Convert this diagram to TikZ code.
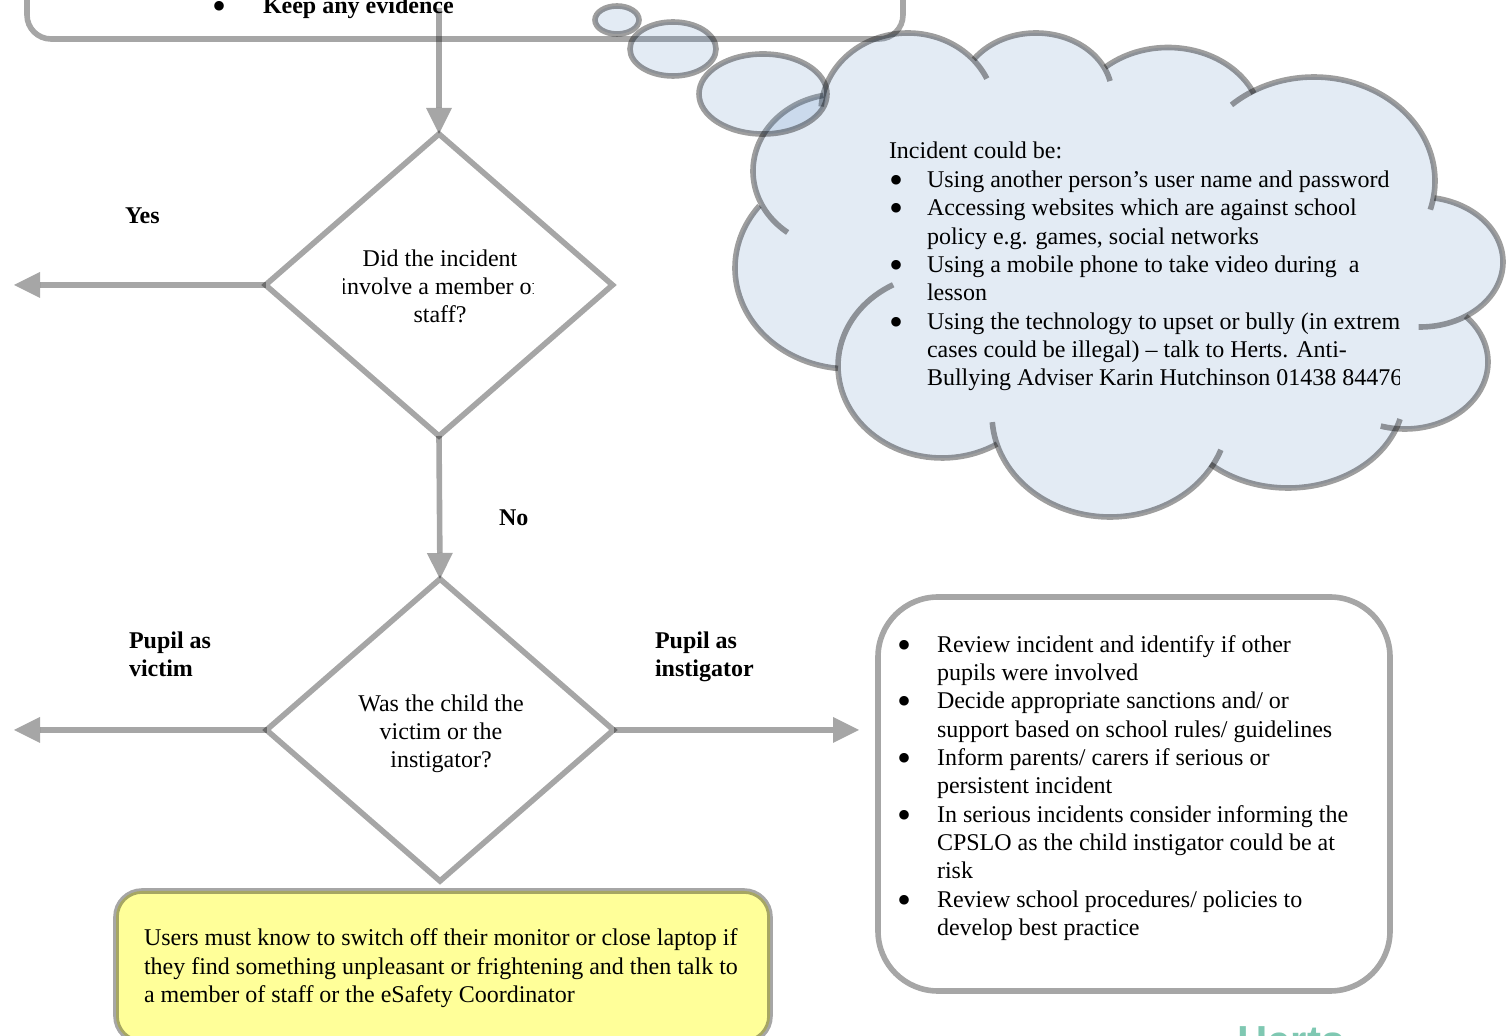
\documentclass[tikz,border=0pt]{standalone}
\usepackage{fontspec}
\setmainfont{Liberation Serif}
\newfontfamily\logofont{Liberation Sans}
\usetikzlibrary{arrows.meta,shapes.geometric}
\definecolor{cloudblue}{HTML}{4F81BD}
\definecolor{noteyellow}{HTML}{FFFF99}
\definecolor{logoteal}{HTML}{7FC8B2}
% hanging bullet: #1 = gap between bullet and the start of the text line
\newcommand{\blt}[1]{\llap{\raisebox{-3pt}[0pt][0pt]{\mdseries\fontsize{20}{14}\selectfont •}\hspace{#1}}}
% elliptical lobe of the cloud: centre x, y, radii x, y, start and end parameter
\newcommand{\lobearc}[6]{plot[domain=#5:#6,samples=60,variable=\t] ({#1+#3*cos(\t)},{#2+#4*sin(\t)})}
\newcommand{\lobenext}[6]{-- plot[domain=#5:#6,samples=60,variable=\t] ({#1+#3*cos(\t)},{#2+#4*sin(\t)})}
\tikzset{
  x=.5pt,y=-.5pt,
  body/.style={inner sep=0,outer sep=0,anchor=north west,align=left,
    font=\fontsize{12}{14.15}\selectfont,execute at begin node=\strut},
  bodyc/.style={body,anchor=north,align=center},
  strong/.style={body,font=\fontsize{12}{14.15}\selectfont\bfseries},
  edge/.style={draw=black,draw opacity=.35,line width=2.8pt},
  decision/.style={shape=diamond,edge,inner sep=0,outer sep=0,minimum width=173.5pt,minimum height=151pt},
  panel/.style={shape=rectangle,edge,inner sep=0,outer sep=0},
  conn/.style={opacity=.35,line width=2.8pt,-{Triangle[length=13pt,width=13pt,line width=0pt]}},
  lobe/.style={draw=black,draw opacity=.38,line width=2.8pt},
  bubble/.style={draw=black,draw opacity=.38,line width=2.8pt,fill=cloudblue,fill opacity=.16}
}
\begin{document}
\begin{tikzpicture}
\useasboundingbox (0,0) rectangle (1506,1036);
% top box
\node[panel,rounded corners=12pt,minimum width=438pt,minimum height=70pt] (topbox) at (465,-31) {};
\node[strong] (keep) at (263,-6) {\blt{18pt}Keep any evidence};
% decisions
\node[decision] (d1) at (439,285) {};
\node[decision] (d2) at (440,730) {};
\begin{scope}
\clip (343,240) rectangle (533.5,335);
\node[bodyc] (d1t) at (440,249.5) {Did the incident\\involve a member of\\staff?};
\end{scope}
\node[bodyc] (d2t) at (441,694.5) {Was the child the\\victim or the\\instigator?};
% connectors
\coordinate (c0) at (439,8);
\coordinate (c1) at (14,285);
\coordinate (c2) at (14,730);
\coordinate (c3) at (859,730);
\draw[conn] (c0) -- (d1.north);
\draw[conn] (d1.south) -- (d2.north);
\draw[conn] (d1.west) -- (c1);
\draw[conn] (d2.west) -- (c2);
\draw[conn] (d2.east) -- (c3);
% labels
\node[strong] (yes) at (125,204) {Yes};
\node[strong] (no) at (499,506) {No};
\node[strong] (victim) at (129,632) {Pupil as\\victim};
\node[strong] (instig) at (655,632) {Pupil as\\instigator};
% cloud fill
\fill[cloudblue,fill opacity=.16]
  \lobearc{840}{171}{87}{77}{154}{259}
  \lobenext{908}{112}{87}{79}{184}{319}
  \lobenext{1036}{95}{76}{62}{215}{338}
  \lobenext{1168}{125}{94}{77.5}{228}{336}
  \lobenext{1314}{181}{121}{104}{240}{367}
  \lobenext{1420}{262}{83}{65}{-80}{57}
  \lobenext{1405}{362}{83}{67}{-43}{94}
  \lobenext{1288}{395}{116}{93}{15}{132}
  \lobenext{1110}{415}{118}{102}{31}{164}
  \lobenext{942}{366}{104}{92}{58}{180}
  \lobenext{850}{268}{115}{101}{96}{218}
  -- cycle;
% cloud outline
\draw[lobe] \lobearc{840}{171}{87}{77}{127}{259};
\draw[lobe] \lobearc{908}{112}{87}{79}{184}{335};
\draw[lobe] \lobearc{1036}{95}{76}{62}{215}{347};
\draw[lobe] \lobearc{1168}{125}{94}{77.5}{228}{336};
\draw[lobe] \lobearc{1314}{181}{121}{104}{227}{376};
\draw[lobe] \lobearc{1420}{262}{83}{65}{-80}{91};
\draw[lobe] \lobearc{1405}{362}{83}{67}{-43}{107};
\draw[lobe] \lobearc{1288}{395}{116}{93}{15}{132};
\draw[lobe] \lobearc{1110}{415}{118}{102}{20}{176};
\draw[lobe] \lobearc{942}{366}{104}{92}{58}{242};
\draw[lobe] \lobearc{850}{268}{115}{101}{96}{218};
% thought bubbles
\path[bubble] (617,20) ellipse [x radius=22,y radius=14];
\path[bubble] (673,49) ellipse [x radius=43,y radius=27];
\path[bubble] (763,94) ellipse [x radius=64,y radius=40];
% cloud text
\begin{scope}
\clip (880,130) rectangle (1399,400);
\node[body] (cloudt) at (889,139) {Incident could be:};
\node[body] (cloudl) at (927,171) {\blt{12pt}Using another person’s user name and password\\\blt{12pt}Accessing websites which are against school\\policy e.g. games, social networks\\\blt{12pt}Using a mobile phone to take video during\ \ a\\lesson\\\blt{12pt}Using the technology to upset or bully (in extreme\\cases could be illegal) – talk to Herts. Anti-\\Bullying Adviser Karin Hutchinson 01438 844769};
\end{scope}
% right box
\node[panel,rounded corners=30pt,minimum width=256pt,minimum height=197pt] (rbox) at (1134,794) {};
\node[body] (rtext) at (937,635.5) {\blt{13pt}Review incident and identify if other\\pupils were involved\\\blt{13pt}Decide appropriate sanctions and/ or\\support based on school rules/ guidelines\\\blt{13pt}Inform parents/ carers if serious or\\persistent incident\\\blt{13pt}In serious incidents consider informing the\\CPSLO as the child instigator could be at\\risk\\\blt{13pt}Review school procedures/ policies to\\develop best practice};
% yellow box
\node[panel,fill=noteyellow,rounded corners=13pt,minimum width=327pt,minimum height=75.5pt] (ybox) at (443,966.5) {};
\node[body] (ytext) at (144,929) {Users must know to switch off their monitor or close laptop if\\they find something unpleasant or frightening and then talk to\\a member of staff or the eSafety Coordinator};
% logo
\node[inner sep=0,outer sep=0,anchor=base west,text=logoteal,font=\logofont\fontsize{21}{24}\selectfont\bfseries] (logo) at (1237,1056) {Herts};
\end{tikzpicture}
\end{document}
